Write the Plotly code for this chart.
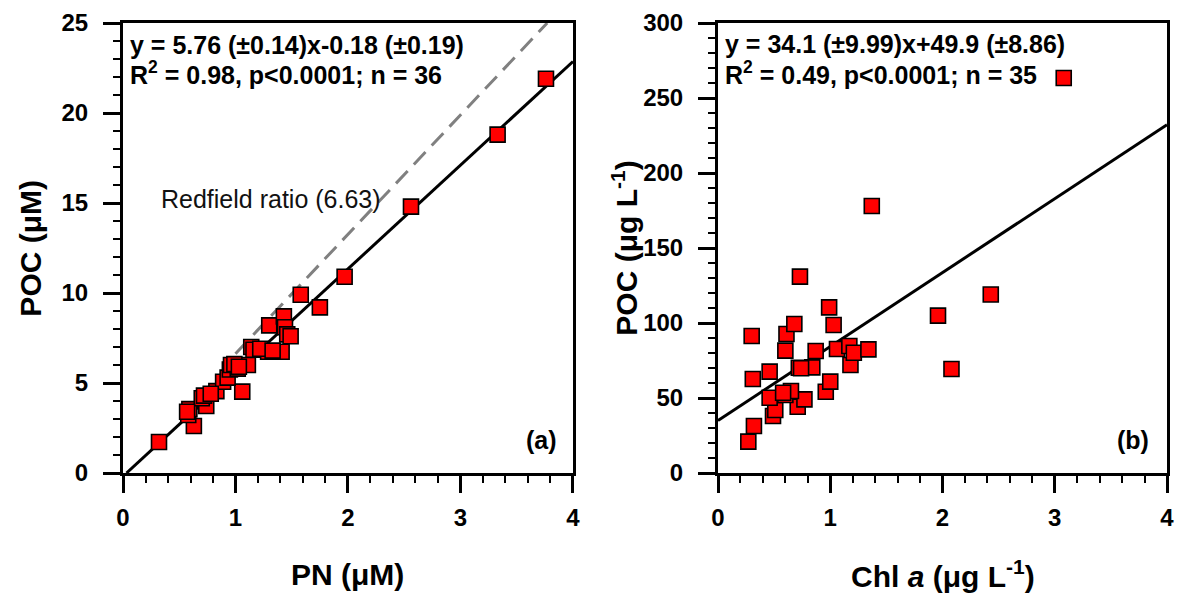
import plotly.graph_objects as go
import numpy as np

# ---------------- data ----------------
pn = [0.32, 0.63, 0.58, 0.59, 0.74, 0.70, 0.72, 0.83, 1.06, 0.89, 0.93, 0.95,
      0.96, 1.02, 1.11, 0.99, 1.14, 1.16, 1.29, 1.41, 1.30, 1.43, 1.44, 1.46,
      1.49, 1.58, 1.75, 1.97, 2.56, 3.33, 3.76, 0.57, 1.03, 0.78, 1.22, 1.33]
poc_a = [1.72, 2.61, 3.22, 3.55, 3.72, 4.15, 4.30, 4.55, 4.52, 5.07, 5.30, 5.75,
         6.00, 5.80, 6.00, 6.05, 7.00, 6.85, 6.74, 6.74, 8.20, 8.70, 8.10, 7.70,
         7.60, 9.90, 9.20, 10.90, 14.80, 18.80, 21.90, 3.40, 5.90, 4.40, 6.90, 6.80]

chl = [0.27, 0.32, 0.49, 0.51, 0.71, 0.77, 0.46, 0.60, 0.65, 0.96, 1.00, 0.31,
       0.46, 0.72, 0.84, 0.74, 1.18, 0.60, 0.87, 1.06, 1.17, 1.21, 1.34, 0.30,
       0.61, 0.68, 1.03, 0.99, 0.73, 1.37, 1.96, 2.08, 2.43, 3.08, 0.58]
poc_b = [20.9, 31.3, 38.0, 42.0, 44.2, 49.1, 50.2, 52.0, 54.7, 54.2, 60.9, 62.7,
         67.6, 70.2, 70.4, 69.8, 72.0, 81.6, 81.3, 82.7, 84.7, 80.2, 82.4, 91.3,
         92.7, 99.3, 98.7, 110.4, 130.9, 178.0, 104.9, 69.3, 119.0, 263.3, 53.5]

fit_a_slope, fit_a_intercept = 5.76, -0.18
fit_b_slope, fit_b_intercept = 49.3, 35.0      # line as drawn in panel (b)
redfield_ratio = 6.63
redfield_xstart = 1.0

x_range = [0, 4]
ya_range = [0, 25]
yb_range = [0, 300]

eq_a = ["y = 5.76 (±0.14)x-0.18 (±0.19)", "R<sup>2</sup> = 0.98, p<0.0001; n = 36"]
eq_b = ["y = 34.1 (±9.99)x+49.9 (±8.86)", "R<sup>2</sup> = 0.49, p<0.0001; n = 35"]

FONT = "Liberation Sans, Arial, sans-serif"

fig = go.Figure()

marker = dict(symbol="square", size=15, color="#ff0000",
              line=dict(color="black", width=1.6))

# panel (a)
xa = np.array([-fit_a_intercept / fit_a_slope, x_range[1]])
fig.add_trace(go.Scatter(x=xa, y=fit_a_slope * xa + fit_a_intercept, mode="lines",
                         line=dict(color="black", width=3), xaxis="x", yaxis="y",
                         showlegend=False, hoverinfo="skip"))
xr = np.array([redfield_xstart, ya_range[1] / redfield_ratio])
fig.add_trace(go.Scatter(x=xr, y=redfield_ratio * xr, mode="lines",
                         line=dict(color="#808080", width=3, dash="17px,9px"),
                         xaxis="x", yaxis="y", showlegend=False, hoverinfo="skip"))
fig.add_trace(go.Scatter(x=pn, y=poc_a, mode="markers", marker=marker,
                         xaxis="x", yaxis="y", showlegend=False))

# panel (b)
xb = np.array(x_range)
fig.add_trace(go.Scatter(x=xb, y=fit_b_slope * xb + fit_b_intercept, mode="lines",
                         line=dict(color="black", width=3), xaxis="x2", yaxis="y2",
                         showlegend=False, hoverinfo="skip"))
fig.add_trace(go.Scatter(x=chl, y=poc_b, mode="markers", marker=marker,
                         xaxis="x2", yaxis="y2", showlegend=False))

tickfont = dict(family=FONT, size=24, color="black", weight="bold")

def xaxis(domain, anchor):
    return dict(domain=domain, anchor=anchor, range=x_range, dtick=1, tick0=0,
                showgrid=False, zeroline=False, showline=True, linecolor="black",
                linewidth=3, mirror=True, ticks="outside", ticklen=17, tickwidth=3,
                tickcolor="black", tickfont=tickfont, ticklabelstandoff=4,
                minor=dict(dtick=0.2, ticks="outside", ticklen=7, tickwidth=2,
                           tickcolor="black"))

def yaxis(rng, dt, mdt, anchor):
    return dict(domain=[0, 1], anchor=anchor, range=rng, dtick=dt, tick0=0,
                showgrid=False, zeroline=False, showline=True, linecolor="black",
                linewidth=3, mirror=True, ticks="outside", ticklen=17, tickwidth=3,
                tickcolor="black", tickfont=tickfont, ticklabelstandoff=10,
                minor=dict(dtick=mdt, ticks="outside", ticklen=7, tickwidth=2,
                           tickcolor="black"))

L, R, T, B = 123, 4, 23, 122
W = 1178 - L - R
da = [0, (576 - L) / W]
db = [(722 - L) / W, 1]

fig.update_layout(
    width=1178, height=595,
    margin=dict(l=L, r=R, t=T, b=B),
    paper_bgcolor="white", plot_bgcolor="white",
    xaxis=xaxis(da, "y"), yaxis=yaxis(ya_range, 5, 1, "x"),
    xaxis2=xaxis(db, "y2"), yaxis2=yaxis(yb_range, 50, 10, "x2"),
    font=dict(family=FONT, color="black"),
)

ann_font = dict(family=FONT, size=25, color="black", weight="bold")
title_font = dict(family=FONT, size=30, color="black", weight="bold")

anns = []
# equation texts
for i, t in enumerate(eq_a):
    anns.append(dict(x=0.04, y=[23.8, 22.2][i], xref="x", yref="y", text=t,
                     showarrow=False, xanchor="left", yanchor="middle", font=ann_font))
for i, t in enumerate(eq_b):
    anns.append(dict(x=0.04, y=[286, 266.7][i], xref="x2", yref="y2", text=t,
                     showarrow=False, xanchor="left", yanchor="middle", font=ann_font))
anns.append(dict(x=1.32, y=15.2, xref="x", yref="y", text="Redfield ratio (6.63)",
                 showarrow=False, xanchor="center", yanchor="middle",
                 font=dict(family=FONT, size=25, color="#111")))
anns.append(dict(x=3.72, y=1.83, xref="x", yref="y", text="(a)", showarrow=False,
                 xanchor="center", yanchor="middle", font=ann_font))
anns.append(dict(x=3.70, y=22, xref="x2", yref="y2", text="(b)", showarrow=False,
                 xanchor="center", yanchor="middle", font=ann_font))

# axis titles
def px2paper_x(px):
    return (px - L) / W
def py2paper_y(py):
    return (595 - B - py) / (595 - T - B)

common = dict(xref="paper", yref="paper", showarrow=False, xanchor="center",
              yanchor="middle", font=title_font)
anns.append(dict(x=px2paper_x(349), y=py2paper_y(574), text="PN (μM)", **common))
anns.append(dict(x=px2paper_x(948), y=py2paper_y(574),
                 text="Chl <i>a</i> (μg L<sup>-1</sup>)", **common))
anns.append(dict(x=px2paper_x(29), y=py2paper_y(248), text="POC (μM)",
                 textangle=-90, **common))
anns.append(dict(x=px2paper_x(628), y=py2paper_y(248),
                 text="POC (μg L<sup>-1</sup>)", textangle=-90, **common))
fig.update_layout(annotations=anns)

fig.write_html("out.html", config={"displayModeBar": False},
               post_script="document.body.style.margin='0';document.body.style.overflow='hidden';")
